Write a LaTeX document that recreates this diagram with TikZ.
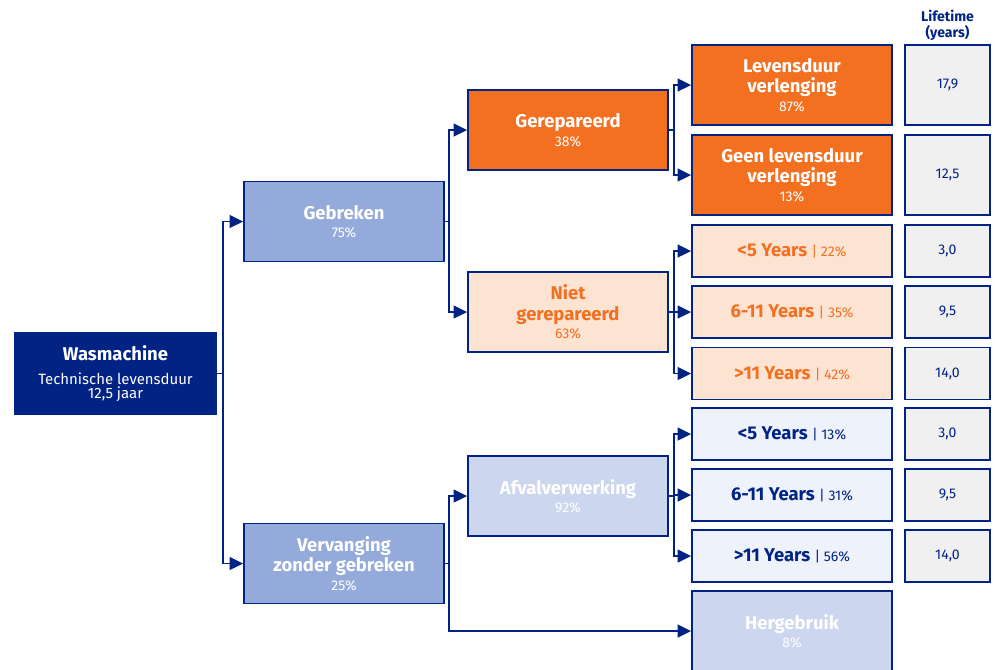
\documentclass[tikz,border=0pt]{standalone}
\usepackage{fontspec}
\setmainfont{Fira Sans}
\usetikzlibrary{arrows.meta}
\definecolor{ingnavy}{RGB}{0,35,132}
\definecolor{ingorange}{RGB}{243,112,33}
\definecolor{peach}{RGB}{253,227,210}
\definecolor{midblue}{RGB}{148,170,218}
\definecolor{lightblue}{RGB}{204,214,238}
\definecolor{paleblue}{RGB}{238,242,251}
\definecolor{lifegray}{RGB}{240,240,240}
\newcommand*\pct[1]{{\mdseries\fontsize{8pt}{10pt}\selectfont #1}}

\begin{document}
\begin{tikzpicture}[x=0.02cm,y=-0.02cm,
		box/.style={draw=ingnavy, line width=1.1pt, inner sep=0pt, align=center,
			minimum width=4cm, minimum height=1.6cm,
			font=\fontsize{10.5pt}{11.5pt}\selectfont\bfseries},
		yearbox/.style={box, minimum height=1.04cm},
		lifebox/.style={draw=ingnavy, line width=1.1pt, fill=lifegray, inner sep=0pt,
			minimum width=1.7cm, text=ingnavy, font=\fontsize{8pt}{10pt}\selectfont},
		arr/.style={draw=ingnavy, line width=0.9pt, -{Triangle[length=0.27cm,width=0.26cm]}}]
		\clip (0,0) rectangle (995,670);
		% Draw the boxes of the tree
		\node[box, fill=ingnavy, text=white, minimum width=4.02cm, minimum height=1.62cm,
			font=\fontsize{10.5pt}{8pt}\selectfont\bfseries] (root) at (115.5,373.5)
			{Wasmachine\\[6pt]{\mdseries\fontsize{8.5pt}{10pt}\selectfont Technische levensduur}\\{\mdseries\fontsize{8.5pt}{10pt}\selectfont 12,5 jaar}};
		\node[box, fill=midblue, text=white] (geb) at (344,221.5) {Gebreken\\[-1pt]\pct{75\%}};
		\node[box, fill=midblue, text=white] (verv) at (344,563.5) {Vervanging\\zonder gebreken\\[-1pt]\pct{25\%}};
		\node[box, fill=ingorange, text=white] (rep) at (568,130) {Gerepareerd\\[-1pt]\pct{38\%}};
		\node[box, fill=peach, text=ingorange] (niet) at (568,312) {Niet\\gerepareerd\\[-1pt]\pct{63\%}};
		\node[box, fill=lightblue, text=white] (afval) at (568,496) {Afvalverwerking\\[-1pt]\pct{92\%}};
		\node[box, fill=ingorange, text=white] (lev) at (792,85) {Levensduur\\verlenging\\[-1pt]\pct{87\%}};
		\node[box, fill=ingorange, text=white] (geen) at (792,175) {Geen levensduur\\verlenging\\[-1pt]\pct{13\%}};
		\node[box, fill=lightblue, text=white] (herg) at (792,631) {Hergebruik\\[-1pt]\pct{8\%}};
		\foreach \n/\y/\lbl/\p in {o1/251/{<5 Years}/22, o2/312/{6-11 Years}/35, o3/373.5/{>11 Years}/42}
			\node[yearbox, fill=peach, text=ingorange] (\n) at (792,\y) {\lbl\ \pct{| \p\%}};
		\foreach \n/\y/\lbl/\p in {b1/434/{<5 Years}/13, b2/495/{6-11 Years}/31, b3/556/{>11 Years}/56}
			\node[yearbox, fill=paleblue, text=ingnavy] (\n) at (792,\y) {\lbl\ \pct{| \p\%}};

		% Lifetime column
		\node[text=ingnavy, align=center, font=\fontsize{8pt}{9pt}\selectfont\bfseries] (head) at (947.5,25) {Lifetime\\(years)};
		\foreach \n/\y/\h/\val in {l1/85/1.6/{17,9}, l2/175/1.6/{12,5}, l3/251/1.04/{3,0}, l4/312/1.04/{9,5},
				l5/373.5/1.04/{14,0}, l6/434/1.04/{3,0}, l7/495/1.04/{9,5}, l8/556/1.04/{14,0}}
			\node[lifebox, minimum height=\h cm] (\n) at (947.5,\y) {\val};

		% Draw connectors
		\foreach \to in {geb, verv}
			\draw[arr] (root.east) -- ++(6,0) |- (\to.west);
		\foreach \to in {rep, niet}
			\draw[arr] (geb.east) -- ++(4,0) |- (\to.west);
		\foreach \to in {afval, herg}
			\draw[arr] (verv.east) -- ++(4,0) |- (\to.west);
		\foreach \to in {lev, geen}
			\draw[arr] (rep.east) -- ++(5,0) |- (\to.west);
		\foreach \to in {o1, o2, o3}
			\draw[arr] (niet.east) -- ++(5,0) |- (\to.west);
		\foreach \to in {b1, b2, b3}
			\draw[arr] (afval.east) -- ++(5,0) |- (\to.west);
	\end{tikzpicture}
\end{document}
